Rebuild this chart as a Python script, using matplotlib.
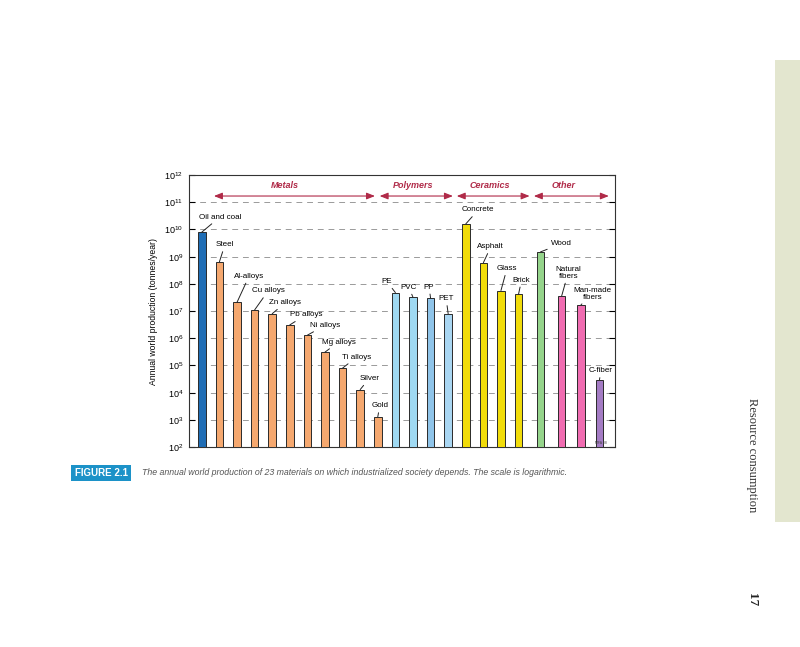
import numpy as np
import matplotlib
matplotlib.use("Agg")
import matplotlib.pyplot as plt
from matplotlib.patches import Rectangle
from matplotlib.transforms import blended_transform_factory

plt.rcParams['font.family'] = ['Liberation Sans', 'DejaVu Sans']
plt.rcParams['mathtext.default'] = 'regular'

# materials and annual production (tonnes/year)
materials = ['Oil and coal', 'Steel', 'Al-alloys', 'Cu alloys', 'Zn alloys', 'Pb alloys',
             'Ni alloys', 'Mg alloys', 'Ti alloys', 'Silver', 'Gold',
             'PE', 'PVC', 'PP', 'PET',
             'Concrete', 'Asphalt', 'Glass', 'Brick',
             'Wood', 'Natural\nfibers', 'Man-made\nfibers', 'C-fiber']
production = [8e9, 6.5e8, 2.1e7, 1.1e7, 8e6, 3.1e6,
              1.3e6, 3.1e5, 8e4, 1.3e4, 1.3e3,
              4.8e7, 3.2e7, 3.0e7, 8e6,
              1.6e10, 6e8, 5.7e7, 4.2e7,
              1.5e9, 3.6e7, 1.7e7, 3e4]
colors = ['#1f6db5'] + ['#f5a86f'] * 10 + ['#9fd9f2', '#9fd9f2', '#8fc4e9', '#a9d6f2'] \
    + ['#f1dc0a'] * 4 + ['#95d48b', '#f06cb1', '#f06cb1', '#a47cc4']

groups = ['Metals', 'Polymers', 'Ceramics', 'Other']
group_span = [(0.059, 0.437), (0.448, 0.620), (0.629, 0.800), (0.810, 0.986)]
group_label_x = [0.225, 0.526, 0.707, 0.879]

# label offsets from bar top (pixels)
label_off = [(18, 15), (5.5, 17), (12, 26), (13.5, 19), (13, 11), (16, 10),
             (18, 10), (13.5, 10), (14, 11), (9, 11), (2, 11),
             (-8.5, 11), (-4, 10), (-1.5, 11), (-2, 15),
             (12.5, 14), (7.5, 16), (6, 22), (3, 14),
             (20.5, 8), (6.5, 23), (11.5, 11), (1.5, 9)]

fig = plt.figure(figsize=(8, 6.47), dpi=100)
ax = fig.add_axes([0.236, 0.309, 0.5325, 0.4204])

pos = np.arange(len(materials), dtype=float)
pos[19:] += [0.25, 0.45, 0.55, 0.6]

ax.set_yscale('log')
ax.bar(pos, production, width=0.43, color=colors, edgecolor='#2a2a2a',
       linewidth=0.7, zorder=3)
ax.set_ylim(1e2, 1e12)
ax.set_xlim(-0.74, 23.47)
ax.set_yticks([10.0 ** k for k in range(2, 13)])
ax.yaxis.set_minor_locator(matplotlib.ticker.NullLocator())
ax.set_xticks([])
ax.tick_params(axis='y', which='major', direction='in', length=4, width=0.8,
               labelsize=6.5, right=True, pad=4)
ax.grid(axis='y', linestyle=(0, (6, 5)), color='#9a9a9a', linewidth=0.7, zorder=0)
for sp in ax.spines.values():
    sp.set_linewidth(0.8)
    sp.set_color('#333333')

ax.set_ylabel('Annual world production (tonnes/year)', fontsize=6.2)
ax.yaxis.set_label_coords(-0.073, 0.5)

for x, v, name, off in zip(pos, production, materials, label_off):
    ax.annotate(name, xy=(x, v), xytext=off, textcoords='offset pixels',
                ha='center', va='center', fontsize=5.8, linespacing=0.95,
                arrowprops=dict(arrowstyle='-', color='#222222', lw=0.7,
                                shrinkA=0.5, shrinkB=0), zorder=5)

ax.text(pos[-1] + 0.1, 115, 'MFA 08', fontsize=2.5, ha='center', va='bottom',
        color='#444444', zorder=5)

red = '#b02a48'
trans = blended_transform_factory(ax.transAxes, ax.transData)
for g, (x0, x1), lx in zip(groups, group_span, group_label_x):
    ax.annotate('', xy=(x1, 10 ** 11.23), xytext=(x0, 10 ** 11.23),
                xycoords=('axes fraction', 'data'), textcoords=('axes fraction', 'data'),
                arrowprops=dict(arrowstyle='<|-|>,head_length=0.5,head_width=0.2',
                                color=red, lw=0.8, shrinkA=0, shrinkB=0))
    ax.text(lx, 10 ** 11.6, g, transform=trans, ha='center', va='center',
            fontsize=6.5, fontweight='bold', fontstyle='italic', color=red)

# page elements
fig.patches.append(Rectangle((0.969, 0.193), 0.031, 0.714, transform=fig.transFigure,
                             facecolor='#e3e6cf', edgecolor='none'))
fig.text(0.94, 0.297, 'Resource consumption', rotation=-90, ha='center', va='center',
         fontsize=9, family='Liberation Serif', color='#333333')
fig.text(0.94, 0.073, '17', rotation=-90, ha='center', va='center',
         fontsize=9.5, family='Liberation Serif', fontweight='bold', color='#222222')
fig.text(0.1265, 0.269, 'FIGURE 2.1', ha='center', va='center', fontsize=7,
         fontweight='bold', color='white',
         bbox=dict(boxstyle='square,pad=0.35', facecolor='#1c92c8', edgecolor='none'))
fig.text(0.1775, 0.269, 'The annual world production of 23 materials on which industrialized '
         'society depends. The scale is logarithmic.', ha='left', va='center',
         fontsize=6.3, fontstyle='italic', color='#555555')

fig.savefig('out.png', dpi=100)
